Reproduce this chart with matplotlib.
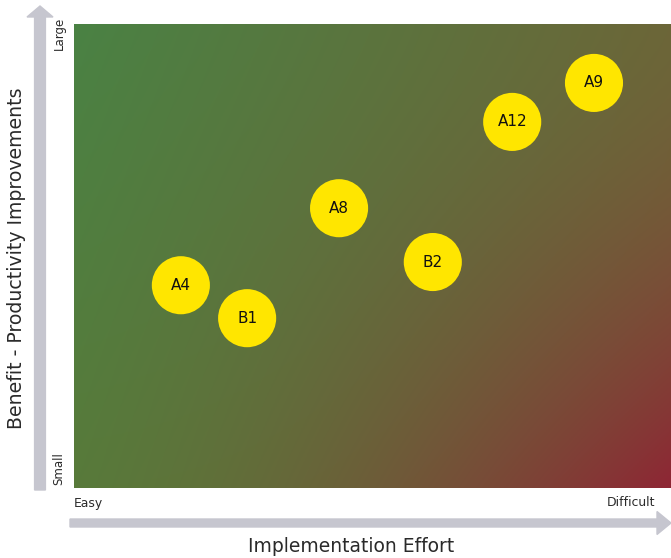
import numpy as np
import matplotlib
matplotlib.use("Agg")
import matplotlib.pyplot as plt
from matplotlib.patches import FancyArrow

labels = ["A4", "B1", "A8", "B2", "A12", "A9"]
effort = [1.79, 2.90, 4.44, 6.01, 7.34, 8.71]
benefit = [4.37, 3.66, 6.03, 4.87, 7.89, 8.73]

fig = plt.figure(figsize=(6.71, 5.58), dpi=100)
ax = fig.add_axes([74 / 671, 1 - 488 / 558, 597 / 671, 464 / 558])

# background gradient: green top-left -> olive -> red bottom-right
nx, ny = 300, 240
gx, gy = np.meshgrid(np.linspace(0, 1, nx), np.linspace(0, 1, ny))  # gy=0 top
tl = np.array([74, 130, 68]) / 255
tr = np.array([108, 102, 56]) / 255
bl = np.array([88, 122, 58]) / 255
br = np.array([142, 38, 52]) / 255
wx = gx[..., None]
wy = gy[..., None]
wbr = (wx ** 1.8) * (wy ** 1.8)
wtr = wx * (1 - wy)
wbl = (1 - wx) * wy
wtl = (1 - wx) * (1 - wy)
rest = wx * wy - wbr
img = wtl * tl + wtr * tr + wbl * bl + wbr * br + rest * np.array([116, 96, 58]) / 255
ax.imshow(np.clip(img, 0, 1), extent=[0, 10, 0, 10], aspect="auto", origin="upper", zorder=0)

ax.scatter(effort, benefit, s=1750, color="#ffe600", edgecolors="none", zorder=2)
for lab, x, y in zip(labels, effort, benefit):
    ax.text(x, y, lab, ha="center", va="center", fontsize=11, color="#111111",
            fontweight="medium", zorder=3)

ax.set_xlim(0, 10)
ax.set_ylim(0, 10)
ax.set_xticks([])
ax.set_yticks([])
for s in ax.spines.values():
    s.set_visible(False)

# axis arrows
arrow_col = "#c6c6cf"
fig.patches.append(FancyArrow(40 / 671, 1 - 490 / 558, 0, 484 / 558, width=9 / 558,
                              head_width=26 / 671, head_length=11 / 558,
                              length_includes_head=True, color=arrow_col,
                              transform=fig.transFigure, figure=fig))
fig.patches.append(FancyArrow(70 / 671, 1 - 523 / 558, 601 / 671, 0, width=8 / 558,
                              head_width=23 / 558, head_length=14 / 671,
                              length_includes_head=True, color=arrow_col,
                              transform=fig.transFigure, figure=fig))

fig.text(17 / 671, 1 - 258 / 558, "Benefit - Productivity Improvements", rotation=90,
         ha="center", va="center", fontsize=13.6, color="#2a2a2a")
fig.text(351 / 671, 1 - 546 / 558, "Implementation Effort",
         ha="center", va="center", fontsize=13.5, color="#2a2a2a")
fig.text(59 / 671, 1 - 17 / 558, "Large", rotation=90, ha="center", va="top",
         fontsize=8.5, color="#2a2a2a")
fig.text(59 / 671, 1 - 485 / 558, "Small", rotation=90, ha="center", va="bottom",
         fontsize=8.5, color="#2a2a2a")
fig.text(74 / 671, 1 - 503 / 558, "Easy", ha="left", va="center",
         fontsize=8.9, color="#2a2a2a")
fig.text(655 / 671, 1 - 503 / 558, "Difficult", ha="right", va="center",
         fontsize=8.9, color="#2a2a2a")

fig.savefig("out.png", dpi=100)
